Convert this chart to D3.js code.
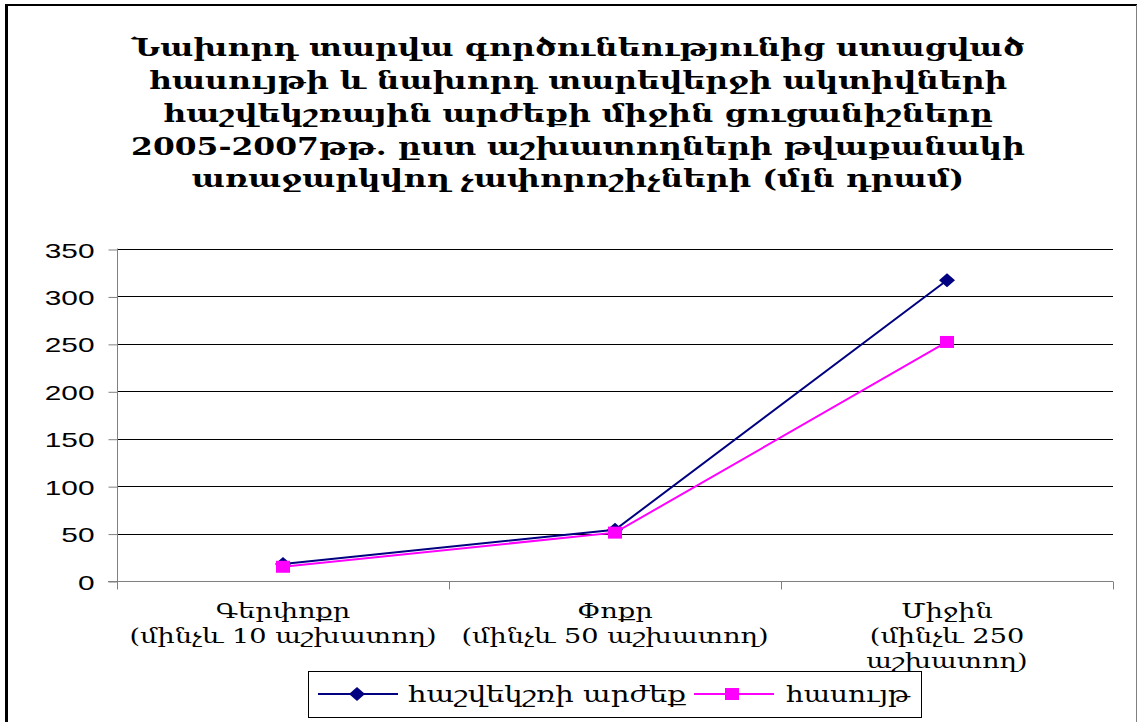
<!DOCTYPE html>
<html>
<head>
<meta charset="utf-8">
<script src="https://cdn.jsdelivr.net/npm/d3@7"></script>
<style>
  html, body { margin: 0; padding: 0; background: #fff; }
  svg { display: block; }
</style>
</head>
<body>
<svg id="chart" width="1138" height="722"></svg>
<script>
// ---- data ----
const titleLines = [
  "Նախորդ տարվա գործունեությունից ստացված",
  "հասույթի և նախորդ տարեվերջի ակտիվների",
  "հաշվեկշռային արժեքի միջին ցուցանիշները",
  "2005-2007թթ. ըստ աշխատողների թվաքանակի",
  "առաջարկվող չափորոշիչների (մլն դրամ)"
];
const categories = ["Գերփոքր", "Փոքր", "Միջին"];
const categoryLabelLines = [
  ["Գերփոքր", "(մինչև 10 աշխատող)"],
  ["Փոքր", "(մինչև 50 աշխատող)"],
  ["Միջին", "(մինչև 250", "աշխատող)"]
];
const seriesNames = ["հաշվեկշռի արժեք", "հասույթ"];
const balanceValues = [18, 54, 317];
const revenueValues = [15, 51, 252];
const yTicks = [0, 50, 100, 150, 200, 250, 300, 350];

// ---- layout ----
const svg = d3.select("#chart");
const plot = { left: 117, right: 1113, top: 249, bottom: 581 };
const serifFont = "'DejaVu Serif', serif";
const sansFont = "'Liberation Sans', Arial, sans-serif";

function stretchTo(sel, target) {
  sel.attr("textLength", target).attr("lengthAdjust", "spacingAndGlyphs");
}

// outer frame
svg.append("line").attr("x1", 6.5).attr("x2", 6.5).attr("y1", 4).attr("y2", 722)
  .attr("stroke", "#000").attr("stroke-width", 3);
svg.append("line").attr("x1", 5).attr("x2", 1137).attr("y1", 5).attr("y2", 5)
  .attr("stroke", "#000").attr("stroke-width", 2);
svg.append("line").attr("x1", 1136.5).attr("x2", 1136.5).attr("y1", 5).attr("y2", 722)
  .attr("stroke", "#808080").attr("stroke-width", 1);

// title
const titleBaselines = [56, 89, 122, 155, 187];
const titleG = svg.append("g");
const titleTexts = titleG.selectAll("text").data(titleLines).join("text")
  .attr("x", 578).attr("y", (d, i) => titleBaselines[i])
  .attr("text-anchor", "middle")
  .attr("font-family", serifFont).attr("font-weight", "bold")
  .attr("font-size", 25).attr("fill", "#000")
  .text(d => d);
const natural0 = titleTexts.nodes()[0].getComputedTextLength();
const kTitle = 893 / natural0;
titleTexts.each(function () {
  const w = this.getComputedTextLength();
  d3.select(this).call(stretchTo, w * kTitle);
});

// scales
const y = d3.scaleLinear().domain([0, 350]).range([plot.bottom, plot.top]);
const xBand = d3.scaleBand().domain(categories).range([plot.left, plot.right]).padding(0);
const x = d => xBand(d) + xBand.bandwidth() / 2;

// gridlines
svg.append("g").selectAll("line").data(yTicks.filter(t => t > 0)).join("line")
  .attr("x1", plot.left).attr("x2", plot.right)
  .attr("y1", d => Math.round(y(d)) + 0.5).attr("y2", d => Math.round(y(d)) + 0.5)
  .attr("stroke", "#000").attr("stroke-width", 1);

// y axis
const yAxis = d3.axisLeft(y).tickValues(yTicks).tickSize(9).tickPadding(14).tickFormat(d3.format("d"));
const yG = svg.append("g").attr("transform", `translate(${plot.left + 0.5},0.5)`).call(yAxis);
yG.select(".domain").attr("stroke", "#808080").attr("d", `M0,${plot.top - 1}V${plot.bottom + 7}`);
yG.selectAll(".tick line").attr("stroke", "#808080");
yG.selectAll(".tick text")
  .attr("font-family", sansFont).attr("font-size", 21).attr("fill", "#000")
  .attr("x", -23).attr("dy", "0.36em")
  .each(function () {
    const w = this.getComputedTextLength();
    d3.select(this).call(stretchTo, w * 1.42);
  });

// x axis
const xAxis = d3.axisBottom(xBand).tickSize(0).tickFormat("");
const xG = svg.append("g").attr("transform", `translate(0,${Math.round(plot.bottom) + 0.5})`).call(xAxis);
xG.select(".domain").attr("stroke", "#808080").attr("d", `M${plot.left - 9},0H${plot.right}`);
const boundaries = categories.map(c => xBand(c)).concat([xBand(categories[categories.length - 1]) + xBand.bandwidth()]);
xG.selectAll(".bound").data(boundaries).join("line").attr("class", "bound")
  .attr("x1", d => Math.round(d) + 0.5).attr("x2", d => Math.round(d) + 0.5)
  .attr("y1", 0).attr("y2", 8).attr("stroke", "#808080");

// category labels
const catBaselines = [618, 643, 668];
const catG = svg.append("g");
categoryLabelLines.forEach((lines, ci) => {
  const cx = x(categories[ci]);
  lines.forEach((ln, li) => {
    catG.append("text")
      .attr("x", cx).attr("y", catBaselines[li])
      .attr("text-anchor", "middle")
      .attr("font-family", serifFont).attr("font-size", 20).attr("fill", "#000")
      .text(ln);
  });
});
const refCat = catG.selectAll("text").nodes()[1];
const kCat = 307 / refCat.getComputedTextLength();
catG.selectAll("text").each(function () {
  const w = this.getComputedTextLength();
  d3.select(this).call(stretchTo, w * kCat);
});

// series
const series = [
  { name: seriesNames[0], values: balanceValues, color: "#000080", symbol: d3.symbolDiamond },
  { name: seriesNames[1], values: revenueValues, color: "#FF00FF", symbol: d3.symbolSquare }
];
const line = d3.line().x((d, i) => x(categories[i])).y(d => y(d));

[series[1], series[0]].forEach(s => {
  svg.append("path").datum(s.values).attr("d", line)
    .attr("fill", "none").attr("stroke", s.color).attr("stroke-width", 2);
});
function marker(sel, s) {
  if (s.symbol === d3.symbolDiamond) {
    sel.append("path").attr("d", "M0,-7L8,0L0,7L-8,0Z").attr("fill", s.color);
  } else {
    sel.append("rect").attr("x", -7).attr("y", -6).attr("width", 14).attr("height", 12).attr("fill", s.color);
  }
}
series.forEach(s => {
  svg.append("g").selectAll("g").data(s.values).join("g")
    .attr("transform", (d, i) => `translate(${x(categories[i])},${y(d)})`)
    .each(function () { marker(d3.select(this), s); });
});

// legend
const lg = svg.append("g");
lg.append("rect").attr("x", 308.5).attr("y", 671.5).attr("width", 613).attr("height", 46)
  .attr("fill", "#fff").attr("stroke", "#000").attr("stroke-width", 1);
const legendItems = [
  { s: series[0], lx1: 318, lx2: 398, mx: 357, tx: 408, tw: 278 },
  { s: series[1], lx1: 694, lx2: 774, mx: 732, tx: 786, tw: 124 }
];
const legendY = 694;
legendItems.forEach(it => {
  lg.append("line").attr("x1", it.lx1).attr("x2", it.lx2).attr("y1", legendY).attr("y2", legendY)
    .attr("stroke", it.s.color).attr("stroke-width", 2);
  marker(lg.append("g").attr("transform", `translate(${it.mx},${legendY})`), it.s);
  const t = lg.append("text").attr("x", it.tx).attr("y", legendY + 8)
    .attr("font-family", serifFont).attr("font-size", 23).attr("fill", "#000")
    .text(it.s.name);
  t.call(stretchTo, it.tw);
});
</script>
</body>
</html>
